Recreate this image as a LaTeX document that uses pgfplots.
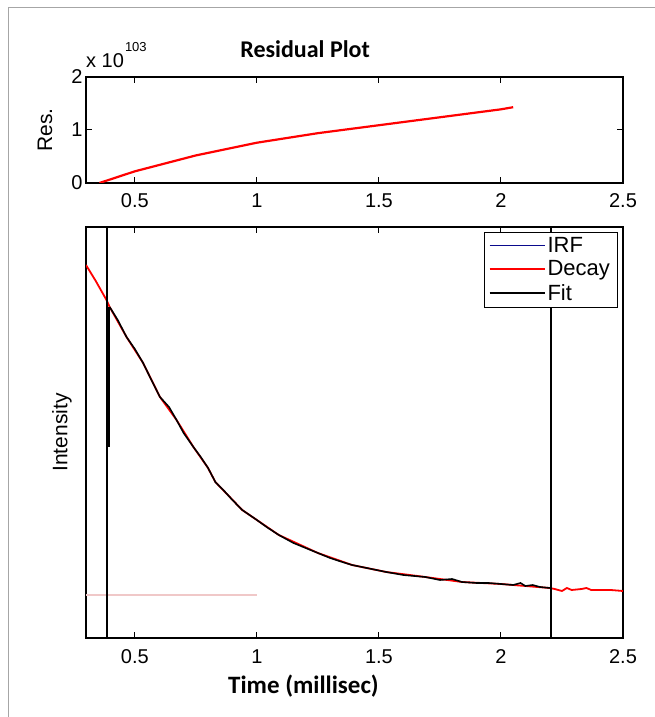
\documentclass[border=0pt]{standalone}
\usepackage{fontspec}
\usepackage{pgfplots}
\pgfplotsset{compat=1.18}
\newfontfamily\arial{Liberation Sans}
\newfontfamily\calibri{Carlito}
\definecolor{irfblue}{RGB}{10,10,140}
\definecolor{decayred}{RGB}{255,0,0}
\definecolor{pinkline}{RGB}{240,200,200}

\pgfplotsset{
  mstyle/.style={
    scale only axis,
    width=537pt,
    xmin=0.3, xmax=2.5,
    xtick={0.5,1,1.5,2,2.5},
    xticklabels={0.5,1,1.5,2,2.5},
    tick align=inside,
    major tick length=6pt,
    axis line style={line width=1.3pt},
    every tick/.style={line width=1pt, black},
    tick label style={font=\arial\fontsize{20}{24}\selectfont},
    /pgf/number format/assume math mode=true,
    label style={font=\arial\fontsize{21}{24}\selectfont},
    clip mode=individual,
  }
}

\begin{document}
\begin{tikzpicture}

% residual panel
\begin{axis}[mstyle,
  at={(86pt,534pt)}, anchor=south west,
  height=106pt,
  ymin=0, ymax=2,
  ytick={0,1,2},
  yticklabels={0,1,2},
  title={Residual Plot},
  title style={font=\calibri\bfseries\fontsize{24}{28}\selectfont,
    at={(0.408,1)}, anchor=south, yshift=10pt},
  ylabel={Res.},
  ylabel style={at={(0,0.5)}, anchor=center, yshift=41pt},
  xticklabel style={yshift=-7pt},
]
\addplot[decayred, line width=2.2pt] coordinates {
  (0.355,0) (0.5,0.22) (0.75,0.52) (1.0,0.76) (1.25,0.94)
  (1.5,1.09) (1.75,1.24) (2.0,1.39) (2.05,1.43)
};
\node[anchor=base west, inner sep=0pt, yshift=9pt]
  at (rel axis cs:0,1)
  {\arial\fontsize{20}{22}\selectfont x 10\kern1pt\raisebox{16pt}{\fontsize{13}{15}\selectfont 103}};
\end{axis}

% intensity panel
\begin{axis}[mstyle,
  at={(86pt,79pt)}, anchor=south west,
  height=411pt,
  ymin=0, ymax=411,
  ytick=\empty,
  xlabel={Time (millisec)},
  xlabel style={font=\calibri\bfseries\fontsize{25}{28}\selectfont,
    at={(0.405,0)}, anchor=base, yshift=-55pt},
  ylabel={Intensity},
  ylabel style={at={(0,0.5)}, anchor=center, yshift=24pt},
  xticklabel style={yshift=-8pt},
  legend style={at={(0.989,0.988)}, anchor=north east,
    font=\arial\fontsize{22}{26}\selectfont,
    draw=black, inner xsep=5pt, inner ysep=3pt,
    row sep=3pt, cells={anchor=west}},
  legend image code/.code={\draw[line width=1.8pt,#1] (0pt,0pt) -- (55pt,0pt);},
]
\addlegendimage{irfblue}
\addlegendentry{IRF}
\addlegendimage{decayred}
\addlegendentry{Decay}
\addlegendimage{black}
\addlegendentry{Fit}

% pale reference line
\addplot[pinkline, line width=1.6pt, forget plot] coordinates {
  (0.30,43) (1.0,43)
};

% measured decay
\addplot[decayred, line width=1.8pt, forget plot] coordinates {
  (0.30,373) (0.34,357) (0.384,338) (0.397,331)
  (0.466,301) (0.534,275) (0.603,241) (0.671,218) (0.74,191)
  (0.80,170) (0.83,156) (0.94,128) (1.0,118) (1.09,103)
  (1.25,85) (1.39,73) (1.53,66) (1.69,61) (1.84,56) (2.0,54)
  (2.20,50) (2.22,49) (2.25,47) (2.27,50) (2.29,48) (2.33,49)
  (2.35,50) (2.37,48) (2.45,48) (2.5,47)
};

% fitted curve
\addplot[black, line width=1.6pt, forget plot] coordinates {
  (0.397,331) (0.43,318) (0.466,301) (0.50,289) (0.534,275)
  (0.57,257) (0.603,241) (0.64,231) (0.671,218) (0.70,205)
  (0.74,191) (0.77,181) (0.80,170) (0.83,156) (0.87,146)
  (0.90,138) (0.94,128) (1.0,118) (1.04,111) (1.09,103)
  (1.15,95) (1.20,90) (1.25,85) (1.30,80) (1.35,76) (1.39,73)
  (1.45,70) (1.53,66) (1.60,63) (1.69,61) (1.75,58) (1.80,59)
  (1.84,56) (1.90,55) (1.95,55) (2.0,54) (2.05,53) (2.08,55)
  (2.10,52) (2.13,53) (2.16,51) (2.20,50)
};

% markers of the fit window
\addplot[black, line width=2pt, forget plot] coordinates {(0.386,0) (0.386,411)};
\addplot[black, line width=3pt, forget plot] coordinates {(0.392,191) (0.392,331)};
\addplot[black, line width=2pt, forget plot] coordinates {(2.205,0) (2.205,411)};
\end{axis}

\draw[gray!70, line width=1pt] (8pt,-5pt) -- (8pt,709pt) -- (660pt,709pt);
\pgfresetboundingbox
\useasboundingbox (0pt,0pt) rectangle (655pt,717pt);
\end{tikzpicture}
\end{document}
